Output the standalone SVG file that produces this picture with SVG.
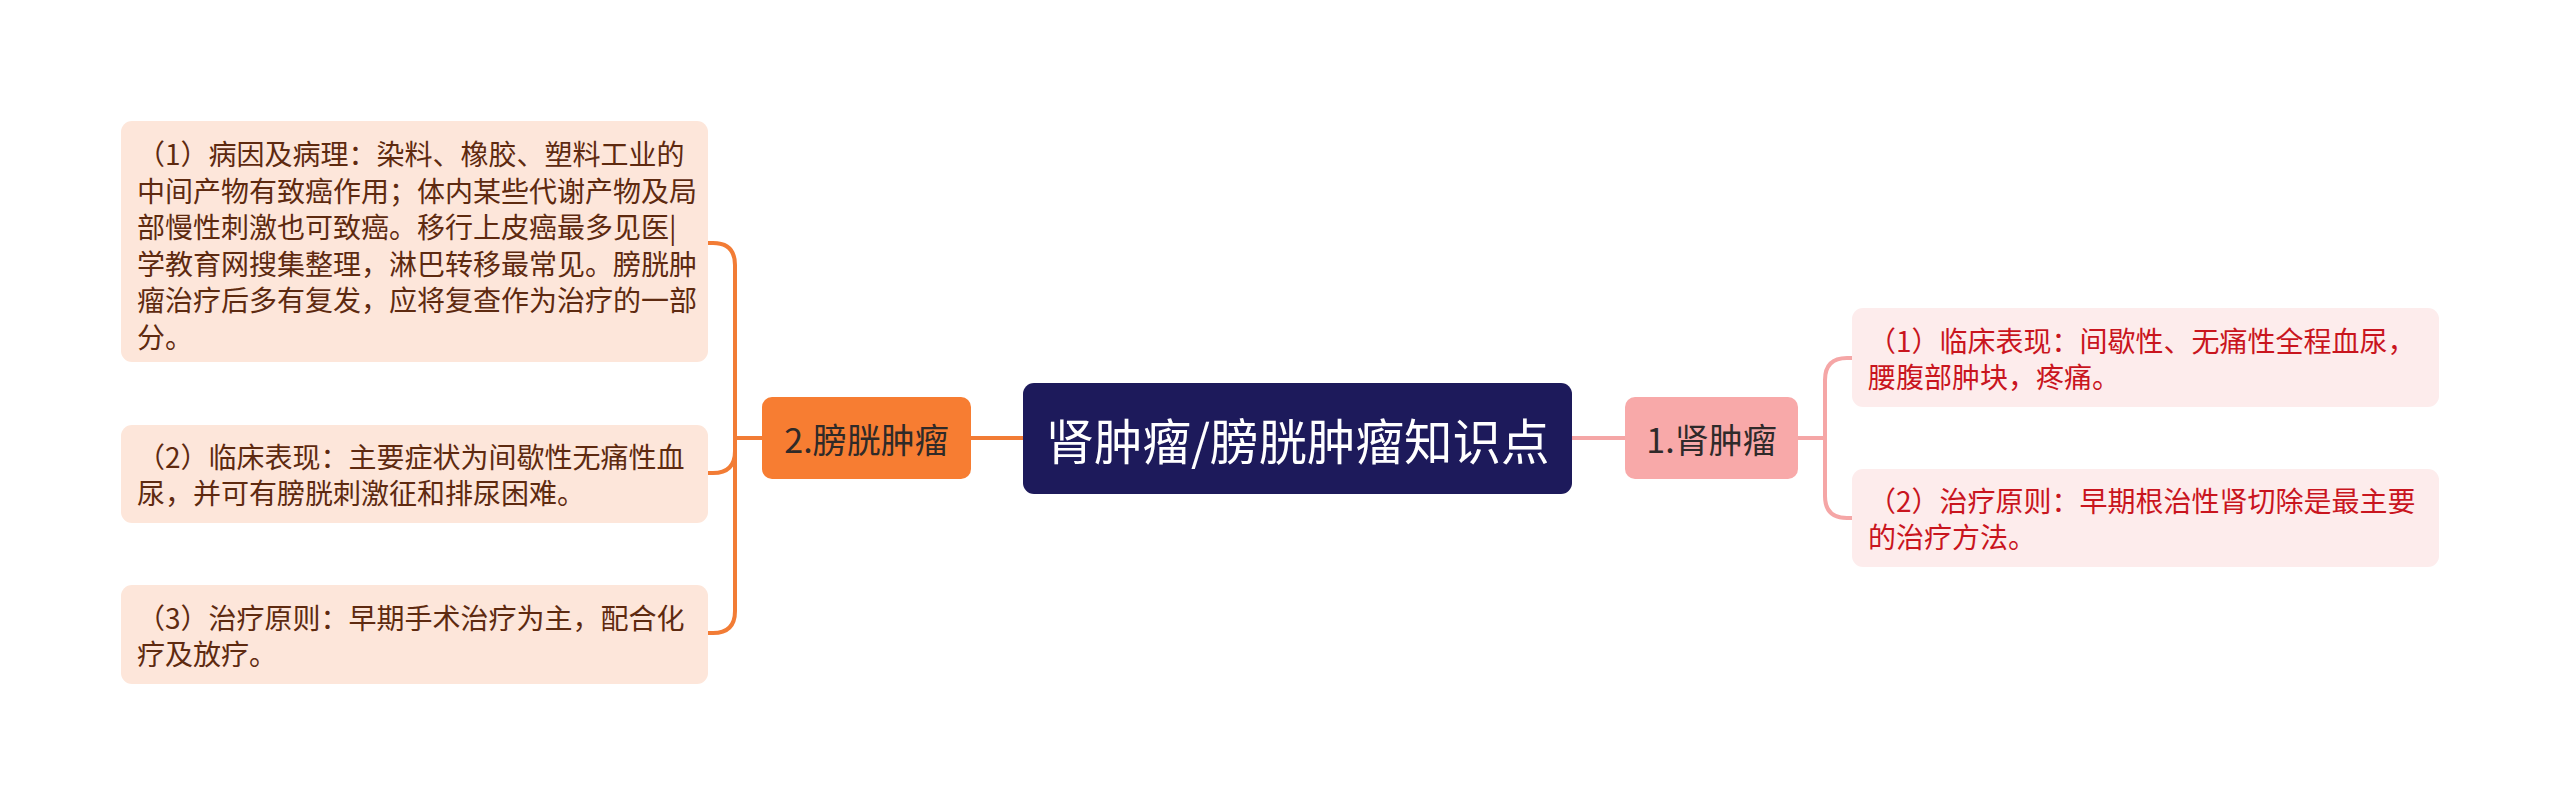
<svg xmlns="http://www.w3.org/2000/svg" width="2560" height="805" viewBox="0 0 2560 805">
<style>
text{font-family:"Noto Sans CJK SC","Noto Sans",sans-serif;}
.lb{fill:#fde6da;}
.lt{fill:#5e2a10;font-size:28px;}
.rb{fill:#fdecec;}
.rt{fill:#c9151e;font-size:28px;}
.co{fill:none;stroke:#f27c35;stroke-width:4;}
.cp{fill:none;stroke:#f5a6a6;stroke-width:4;}
</style>
<rect width="2560" height="805" fill="#ffffff"/>
<g id="connectors">
<path class="co" d="M971,438 H1023"/>
<path class="co" d="M762,438 H735"/>
<path class="co" d="M708,243 H713 Q735,243 735,265 V611 Q735,633 713,633 H708"/>
<path class="co" d="M708,473 H713 Q735,473 735,451"/>
<path class="cp" d="M1572,438 H1625"/>
<path class="cp" d="M1798,438 H1825"/>
<path class="cp" d="M1852,358 H1847 Q1825,358 1825,380 V496 Q1825,518 1847,518 H1852"/>
</g>
<g id="center">
<rect x="1023" y="383" width="549" height="111" rx="11" fill="#1d1a5b"/>
<text x="1297.5" y="438.5" text-anchor="middle" dominant-baseline="central" font-size="48.5" fill="#ffffff">肾肿瘤/膀胱肿瘤知识点</text>
</g>
<g id="node-bladder">
<rect x="762" y="397" width="209" height="82" rx="10" fill="#f77d32"/>
<text x="866.5" y="438.5" text-anchor="middle" dominant-baseline="central" font-size="34" fill="#2f2a28">2.膀胱肿瘤</text>
</g>
<g id="node-kidney">
<rect x="1625" y="397" width="173" height="82" rx="10" fill="#f8a9a9"/>
<text x="1711.5" y="438.5" text-anchor="middle" dominant-baseline="central" font-size="34" fill="#2f2a2a">1.肾肿瘤</text>
</g>
<g id="left-1">
<rect class="lb" x="121" y="121" width="587" height="241" rx="11"/>
<text class="lt" dominant-baseline="central">
<tspan x="137" y="153">（1）病因及病理：染料、橡胶、塑料工业的</tspan>
<tspan x="137" y="189.5">中间产物有致癌作用；体内某些代谢产物及局</tspan>
<tspan x="137" y="226">部慢性刺激也可致癌。移行上皮癌最多见医|</tspan>
<tspan x="137" y="262.5">学教育网搜集整理，淋巴转移最常见。膀胱肿</tspan>
<tspan x="137" y="299">瘤治疗后多有复发，应将复查作为治疗的一部</tspan>
<tspan x="137" y="335.5">分。</tspan>
</text>
</g>
<g id="left-2">
<rect class="lb" x="121" y="425" width="587" height="98" rx="11"/>
<text class="lt" dominant-baseline="central">
<tspan x="137" y="456">（2）临床表现：主要症状为间歇性无痛性血</tspan>
<tspan x="137" y="492">尿，并可有膀胱刺激征和排尿困难。</tspan>
</text>
</g>
<g id="left-3">
<rect class="lb" x="121" y="585" width="587" height="99" rx="11"/>
<text class="lt" dominant-baseline="central">
<tspan x="137" y="616.5">（3）治疗原则：早期手术治疗为主，配合化</tspan>
<tspan x="137" y="652.5">疗及放疗。</tspan>
</text>
</g>
<g id="right-1">
<rect class="rb" x="1852" y="308" width="587" height="99" rx="11"/>
<text class="rt" dominant-baseline="central">
<tspan x="1868" y="339.5">（1）临床表现：间歇性、无痛性全程血尿，</tspan>
<tspan x="1868" y="375.5">腰腹部肿块，疼痛。</tspan>
</text>
</g>
<g id="right-2">
<rect class="rb" x="1852" y="469" width="587" height="98" rx="11"/>
<text class="rt" dominant-baseline="central">
<tspan x="1868" y="500">（2）治疗原则：早期根治性肾切除是最主要</tspan>
<tspan x="1868" y="536">的治疗方法。</tspan>
</text>
</g>
</svg>
